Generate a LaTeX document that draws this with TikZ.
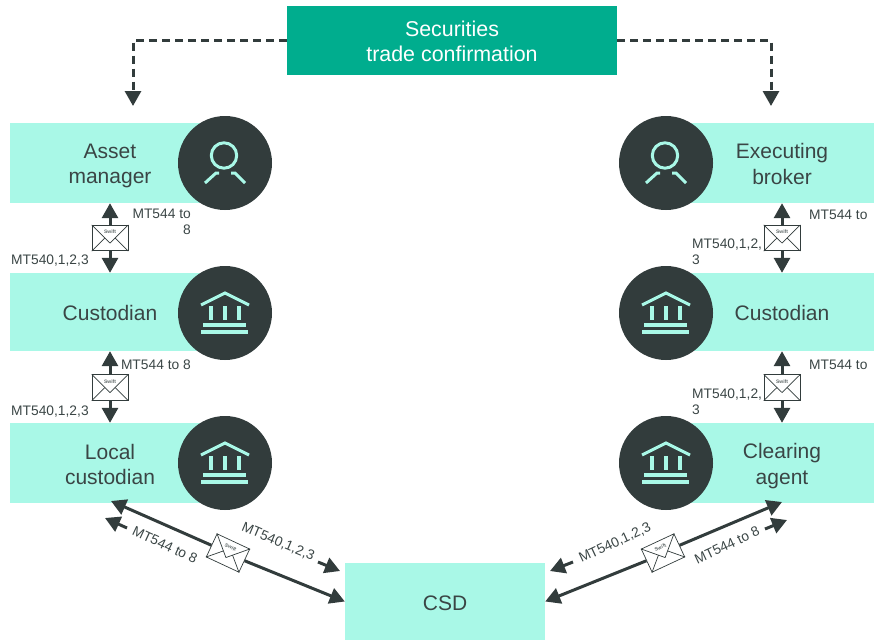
\documentclass[tikz,border=0pt]{standalone}
\usepackage{fontspec}
\setmainfont{Liberation Sans}
\usetikzlibrary{arrows.meta, calc}
\definecolor{mint}{HTML}{A9F8E7}
\definecolor{slate}{HTML}{323C3C}
\definecolor{tradegreen}{HTML}{00AD8E}
\definecolor{inktext}{HTML}{3A4545}
\newcommand{\boxstrut}{\rule[-4pt]{0pt}{25pt}}

\begin{document}
\begin{tikzpicture}[x=1pt, y=-1pt]

\def\boxwidth{200pt};
\def\linew{3pt};
\tikzset{
    party box/.style={
        rectangle,
        fill=mint,
        text=inktext,
        inner sep=0,
        align=center,
        font=\fontsize{21}{25}\selectfont,
        minimum width=\boxwidth
    },
    icon disc/.style={circle, fill=slate, inner sep=0, minimum size=94pt},
    msg label/.style={
        inner sep=0,
        text=inktext,
        font=\fontsize{13.8}{16}\selectfont
    },
    envelope/.style={
        rectangle,
        draw=slate,
        fill=white,
        line width=0.7pt,
        inner sep=0,
        minimum width=36pt,
        minimum height=25.5pt,
        text=inktext!80,
        font=\fontsize{5}{5}\selectfont\bfseries
    },
    flap/.style={draw=slate, line width=0.7pt},
    oneway/.style={draw=slate, line width=\linew, -{Triangle[length=15pt, width=16pt]}},
    trade link/.style={
        draw=slate,
        line width=3pt,
        dash pattern=on 8pt off 5pt,
        -{Triangle[length=15pt, width=16pt]}
    },
    person icon/.pic={
        \draw[mint, line width=3pt] (-1,-7.5) circle (12.7);
        \draw[mint, line width=3pt] (-20,20) -- (-9,10) -- (-6,10);
        \draw[mint, line width=3pt] (6,10) -- (10,10) -- (20,20);
    },
    bank icon/.pic={
        \draw[mint, line width=3pt] (-24,-8) -- (0,-20) -- (24,-8);
        \foreach \cx in {-14,0,14} {
            \fill[mint] (\cx-2,-7) rectangle (\cx+2,7);
        }
        \fill[mint] (-22,10) rectangle (21,14);
        \fill[mint] (-24,17) rectangle (23,21);
    }
}

\useasboundingbox (0,0) rectangle (874,640);

% participants
\foreach \name/\txt/\xc/\yc/\hgt in {
    asset/{\boxstrut Asset\\\boxstrut manager}/110/163/80,
    custleft/{\boxstrut Custodian}/110/312/78,
    local/{\boxstrut Local\\\boxstrut custodian}/110/463/80} {
    \node[party box, minimum height=\hgt pt] (\name) at (\xc,\yc) {\txt};
}
\foreach \name/\txt/\xc/\yc/\hgt in {
    broker/{\boxstrut Executing\\\boxstrut broker}/782/163/80,
    custright/{\boxstrut Custodian}/782/312/78,
    clearing/{\boxstrut Clearing\\\boxstrut agent}/782/463/80} {
    \node[party box, minimum width=184pt, minimum height=\hgt pt] (\name) at (\xc,\yc) {\txt};
}

\node[party box, minimum height=77pt] (csd) at (445,601.5) {\boxstrut CSD};

\node[rectangle, fill=tradegreen, text=white, inner sep=0, align=center,
    minimum width=330pt, minimum height=69pt,
    font=\fontsize{21.4}{25}\selectfont] (trade) at (452,40.5) {\boxstrut Securities\\\boxstrut trade confirmation};

% icons
\foreach \name/\xc/\yc in {discA/225/163, discB/225/313, discC/225/463,
    discD/666/163, discE/666/313, discF/666/463} {
    \node[icon disc] (\name) at (\xc,\yc) {};
}
\pic at (discA) {person icon};
\pic at (discD) {person icon};
\foreach \name in {discB, discC, discE, discF} {
    \pic at (\name) {bank icon};
}

% trade confirmation
\coordinate (tipleft) at (133,106);
\coordinate (tipright) at (771,106);
\draw[trade link] (trade.west) -| (tipleft);
\draw[trade link] (trade.east) -| (tipright);

% envelopes
\foreach \name/\xc/\yc/\ang in {envA/110/238/0, envB/110/387.5/0, envC/782/238/0, envD/782/387.5/0,
    envE/228/553/-25, envF/663/553/25} {
    \node[envelope, rotate=\ang] (\name) at (\xc,\yc) {\raisebox{4.5pt}[0pt][0pt]{Swift}};
    \draw[flap] (\name.north west) -- ($(\name.center)!5pt!(\name.south)$) -- (\name.north east);
    \draw[flap] (\name.south west) -- ($(\name.center)!5pt!(\name.west)$);
    \draw[flap] (\name.south east) -- ($(\name.center)!5pt!(\name.east)$);
}

% vertical flows
\foreach \env/\up/\down in {envA/asset/custleft, envB/custleft/local, envC/broker/custright, envD/custright/clearing} {
    \draw[oneway] (\env.north) -- (\env.north |- \up.south);
    \draw[oneway] (\env.south) -- (\env.south |- \down.north);
}

% diagonal flows
\coordinate (localtip) at (111,501);
\coordinate (clearingtip) at (782,502);
\draw[oneway] (envE.west) -- (localtip);
\draw[oneway] (envE.east) -- (csd.west);
\draw[oneway] (envF.west) -- (csd.east);
\draw[oneway] (envF.east) -- (clearingtip);

\foreach \name/\fx/\fy/\tx/\ty in {
    sa/127/528/105/518, sb/318/562/340/571, sc/573/562/550/571, sd/765/529/787/520} {
    \coordinate (\name from) at (\fx,\fy);
    \coordinate (\name to) at (\tx,\ty);
    \draw[oneway] (\name from) -- (\name to);
}

% message labels
\node[msg label, align=right, anchor=north east] (labA) at (191,209) {MT544 to\\8};
\node[msg label, anchor=west] (labB) at (11,261) {MT540,1,2,3};
\node[msg label, anchor=east] (labC) at (191,364.5) {MT544 to 8};
\node[msg label, anchor=west] (labD) at (11,412) {MT540,1,2,3};
\node[msg label, anchor=west] (labE) at (809,215) {MT544 to};
\node[msg label, align=left, anchor=north west] (labF) at (692,239) {MT540,1,2,\\3};
\node[msg label, anchor=west] (labG) at (809,364.5) {MT544 to};
\node[msg label, align=left, anchor=north west] (labH) at (692,389) {MT540,1,2,\\3};
\node[msg label, rotate=-25] (labI) at (165,545) {MT544 to 8};
\node[msg label, rotate=-23] (labJ) at (278,542) {MT540,1,2,3};
\node[msg label, rotate=25] (labK) at (615,543) {MT540,1,2,3};
\node[msg label, rotate=25] (labL) at (727,545) {MT544 to 8};
\end{tikzpicture}
\end{document}
